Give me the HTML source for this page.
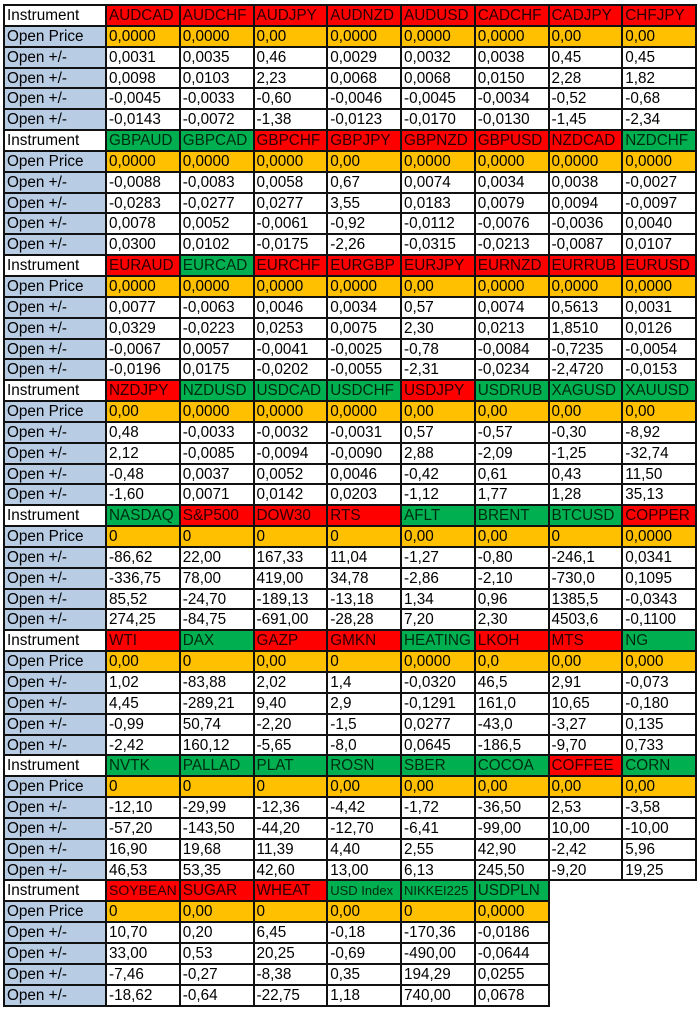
<!DOCTYPE html>
<html>
<head>
<meta charset="utf-8">
<style>
html,body{margin:0;padding:0;background:#fff}
body{width:700px;height:1011px;position:relative;overflow:hidden}
.t{position:absolute;left:3px;top:4px;display:grid;grid-template-columns:100px repeat(8,71.75px);grid-template-rows:repeat(48,18.854px);gap:2px;padding:2px;background:#111;font-family:"Liberation Sans",Arial,sans-serif;font-size:15.3px}
.t div{background:#fff;color:#000;line-height:19.6px;padding-left:2px;white-space:nowrap;overflow:hidden}
.t div.l{background:#b8cce4}
.t div.r{background:#ff0000;color:#2a0000}
.t div.g{background:#00b050;color:#002a10}
.t div.o{background:#ffc000}
.t div.s{font-size:13px}
.t div.m{font-size:14px}
.t div.e{grid-column:8/10;grid-row:43/49;margin:0 -2px -2px 0;background:#fff}
</style>
</head>
<body>
<div class="t">
<div class="e"></div>
<!-- Block 1 -->
<div>Instrument</div><div class="r">AUDCAD</div><div class="r">AUDCHF</div><div class="r">AUDJPY</div><div class="r">AUDNZD</div><div class="r">AUDUSD</div><div class="r">CADCHF</div><div class="r">CADJPY</div><div class="r">CHFJPY</div>
<div class="l">Open Price</div><div class="o">0,0000</div><div class="o">0,0000</div><div class="o">0,00</div><div class="o">0,0000</div><div class="o">0,0000</div><div class="o">0,0000</div><div class="o">0,00</div><div class="o">0,00</div>
<div class="l">Open +/-</div><div>0,0031</div><div>0,0035</div><div>0,46</div><div>0,0029</div><div>0,0032</div><div>0,0038</div><div>0,45</div><div>0,45</div>
<div class="l">Open +/-</div><div>0,0098</div><div>0,0103</div><div>2,23</div><div>0,0068</div><div>0,0068</div><div>0,0150</div><div>2,28</div><div>1,82</div>
<div class="l">Open +/-</div><div>-0,0045</div><div>-0,0033</div><div>-0,60</div><div>-0,0046</div><div>-0,0045</div><div>-0,0034</div><div>-0,52</div><div>-0,68</div>
<div class="l">Open +/-</div><div>-0,0143</div><div>-0,0072</div><div>-1,38</div><div>-0,0123</div><div>-0,0170</div><div>-0,0130</div><div>-1,45</div><div>-2,34</div>
<!-- Block 2 -->
<div>Instrument</div><div class="g">GBPAUD</div><div class="g">GBPCAD</div><div class="r">GBPCHF</div><div class="r">GBPJPY</div><div class="r">GBPNZD</div><div class="r">GBPUSD</div><div class="r">NZDCAD</div><div class="g">NZDCHF</div>
<div class="l">Open Price</div><div class="o">0,0000</div><div class="o">0,0000</div><div class="o">0,0000</div><div class="o">0,00</div><div class="o">0,0000</div><div class="o">0,0000</div><div class="o">0,0000</div><div class="o">0,0000</div>
<div class="l">Open +/-</div><div>-0,0088</div><div>-0,0083</div><div>0,0058</div><div>0,67</div><div>0,0074</div><div>0,0034</div><div>0,0038</div><div>-0,0027</div>
<div class="l">Open +/-</div><div>-0,0283</div><div>-0,0277</div><div>0,0277</div><div>3,55</div><div>0,0183</div><div>0,0079</div><div>0,0094</div><div>-0,0097</div>
<div class="l">Open +/-</div><div>0,0078</div><div>0,0052</div><div>-0,0061</div><div>-0,92</div><div>-0,0112</div><div>-0,0076</div><div>-0,0036</div><div>0,0040</div>
<div class="l">Open +/-</div><div>0,0300</div><div>0,0102</div><div>-0,0175</div><div>-2,26</div><div>-0,0315</div><div>-0,0213</div><div>-0,0087</div><div>0,0107</div>
<!-- Block 3 -->
<div>Instrument</div><div class="r">EURAUD</div><div class="g">EURCAD</div><div class="r">EURCHF</div><div class="r">EURGBP</div><div class="r">EURJPY</div><div class="r">EURNZD</div><div class="r">EURRUB</div><div class="r">EURUSD</div>
<div class="l">Open Price</div><div class="o">0,0000</div><div class="o">0,0000</div><div class="o">0,0000</div><div class="o">0,0000</div><div class="o">0,00</div><div class="o">0,0000</div><div class="o">0,0000</div><div class="o">0,0000</div>
<div class="l">Open +/-</div><div>0,0077</div><div>-0,0063</div><div>0,0046</div><div>0,0034</div><div>0,57</div><div>0,0074</div><div>0,5613</div><div>0,0031</div>
<div class="l">Open +/-</div><div>0,0329</div><div>-0,0223</div><div>0,0253</div><div>0,0075</div><div>2,30</div><div>0,0213</div><div>1,8510</div><div>0,0126</div>
<div class="l">Open +/-</div><div>-0,0067</div><div>0,0057</div><div>-0,0041</div><div>-0,0025</div><div>-0,78</div><div>-0,0084</div><div>-0,7235</div><div>-0,0054</div>
<div class="l">Open +/-</div><div>-0,0196</div><div>0,0175</div><div>-0,0202</div><div>-0,0055</div><div>-2,31</div><div>-0,0234</div><div>-2,4720</div><div>-0,0153</div>
<!-- Block 4 -->
<div>Instrument</div><div class="r">NZDJPY</div><div class="g">NZDUSD</div><div class="g">USDCAD</div><div class="g">USDCHF</div><div class="r">USDJPY</div><div class="g">USDRUB</div><div class="g">XAGUSD</div><div class="g">XAUUSD</div>
<div class="l">Open Price</div><div class="o">0,00</div><div class="o">0,0000</div><div class="o">0,0000</div><div class="o">0,0000</div><div class="o">0,00</div><div class="o">0,00</div><div class="o">0,00</div><div class="o">0,00</div>
<div class="l">Open +/-</div><div>0,48</div><div>-0,0033</div><div>-0,0032</div><div>-0,0031</div><div>0,57</div><div>-0,57</div><div>-0,30</div><div>-8,92</div>
<div class="l">Open +/-</div><div>2,12</div><div>-0,0085</div><div>-0,0094</div><div>-0,0090</div><div>2,88</div><div>-2,09</div><div>-1,25</div><div>-32,74</div>
<div class="l">Open +/-</div><div>-0,48</div><div>0,0037</div><div>0,0052</div><div>0,0046</div><div>-0,42</div><div>0,61</div><div>0,43</div><div>11,50</div>
<div class="l">Open +/-</div><div>-1,60</div><div>0,0071</div><div>0,0142</div><div>0,0203</div><div>-1,12</div><div>1,77</div><div>1,28</div><div>35,13</div>
<!-- Block 5 -->
<div>Instrument</div><div class="g">NASDAQ</div><div class="r">S&amp;P500</div><div class="r">DOW30</div><div class="r">RTS</div><div class="g">AFLT</div><div class="g">BRENT</div><div class="g">BTCUSD</div><div class="r">COPPER</div>
<div class="l">Open Price</div><div class="o">0</div><div class="o">0</div><div class="o">0</div><div class="o">0</div><div class="o">0,00</div><div class="o">0,00</div><div class="o">0</div><div class="o">0,0000</div>
<div class="l">Open +/-</div><div>-86,62</div><div>22,00</div><div>167,33</div><div>11,04</div><div>-1,27</div><div>-0,80</div><div>-246,1</div><div>0,0341</div>
<div class="l">Open +/-</div><div>-336,75</div><div>78,00</div><div>419,00</div><div>34,78</div><div>-2,86</div><div>-2,10</div><div>-730,0</div><div>0,1095</div>
<div class="l">Open +/-</div><div>85,52</div><div>-24,70</div><div>-189,13</div><div>-13,18</div><div>1,34</div><div>0,96</div><div>1385,5</div><div>-0,0343</div>
<div class="l">Open +/-</div><div>274,25</div><div>-84,75</div><div>-691,00</div><div>-28,28</div><div>7,20</div><div>2,30</div><div>4503,6</div><div>-0,1100</div>
<!-- Block 6 -->
<div>Instrument</div><div class="r">WTI</div><div class="g">DAX</div><div class="r">GAZP</div><div class="r">GMKN</div><div class="g">HEATING</div><div class="r">LKOH</div><div class="r">MTS</div><div class="g">NG</div>
<div class="l">Open Price</div><div class="o">0,00</div><div class="o">0</div><div class="o">0,00</div><div class="o">0</div><div class="o">0,0000</div><div class="o">0,0</div><div class="o">0,00</div><div class="o">0,000</div>
<div class="l">Open +/-</div><div>1,02</div><div>-83,88</div><div>2,02</div><div>1,4</div><div>-0,0320</div><div>46,5</div><div>2,91</div><div>-0,073</div>
<div class="l">Open +/-</div><div>4,45</div><div>-289,21</div><div>9,40</div><div>2,9</div><div>-0,1291</div><div>161,0</div><div>10,65</div><div>-0,180</div>
<div class="l">Open +/-</div><div>-0,99</div><div>50,74</div><div>-2,20</div><div>-1,5</div><div>0,0277</div><div>-43,0</div><div>-3,27</div><div>0,135</div>
<div class="l">Open +/-</div><div>-2,42</div><div>160,12</div><div>-5,65</div><div>-8,0</div><div>0,0645</div><div>-186,5</div><div>-9,70</div><div>0,733</div>
<!-- Block 7 -->
<div>Instrument</div><div class="g">NVTK</div><div class="g">PALLAD</div><div class="g">PLAT</div><div class="g">ROSN</div><div class="g">SBER</div><div class="g">COCOA</div><div class="r">COFFEE</div><div class="g">CORN</div>
<div class="l">Open Price</div><div class="o">0</div><div class="o">0</div><div class="o">0</div><div class="o">0,00</div><div class="o">0,00</div><div class="o">0,00</div><div class="o">0,00</div><div class="o">0,00</div>
<div class="l">Open +/-</div><div>-12,10</div><div>-29,99</div><div>-12,36</div><div>-4,42</div><div>-1,72</div><div>-36,50</div><div>2,53</div><div>-3,58</div>
<div class="l">Open +/-</div><div>-57,20</div><div>-143,50</div><div>-44,20</div><div>-12,70</div><div>-6,41</div><div>-99,00</div><div>10,00</div><div>-10,00</div>
<div class="l">Open +/-</div><div>16,90</div><div>19,68</div><div>11,39</div><div>4,40</div><div>2,55</div><div>42,90</div><div>-2,42</div><div>5,96</div>
<div class="l">Open +/-</div><div>46,53</div><div>53,35</div><div>42,60</div><div>13,00</div><div>6,13</div><div>245,50</div><div>-9,20</div><div>19,25</div>
<!-- Block 8 -->
<div>Instrument</div><div class="r m">SOYBEAN</div><div class="r">SUGAR</div><div class="r">WHEAT</div><div class="g s">USD Index</div><div class="g s">NIKKEI225</div><div class="g">USDPLN</div>
<div class="l">Open Price</div><div class="o">0</div><div class="o">0,00</div><div class="o">0</div><div class="o">0,00</div><div class="o">0</div><div class="o">0,0000</div>
<div class="l">Open +/-</div><div>10,70</div><div>0,20</div><div>6,45</div><div>-0,18</div><div>-170,36</div><div>-0,0186</div>
<div class="l">Open +/-</div><div>33,00</div><div>0,53</div><div>20,25</div><div>-0,69</div><div>-490,00</div><div>-0,0644</div>
<div class="l">Open +/-</div><div>-7,46</div><div>-0,27</div><div>-8,38</div><div>0,35</div><div>194,29</div><div>0,0255</div>
<div class="l">Open +/-</div><div>-18,62</div><div>-0,64</div><div>-22,75</div><div>1,18</div><div>740,00</div><div>0,0678</div>
</div>
</body>
</html>
